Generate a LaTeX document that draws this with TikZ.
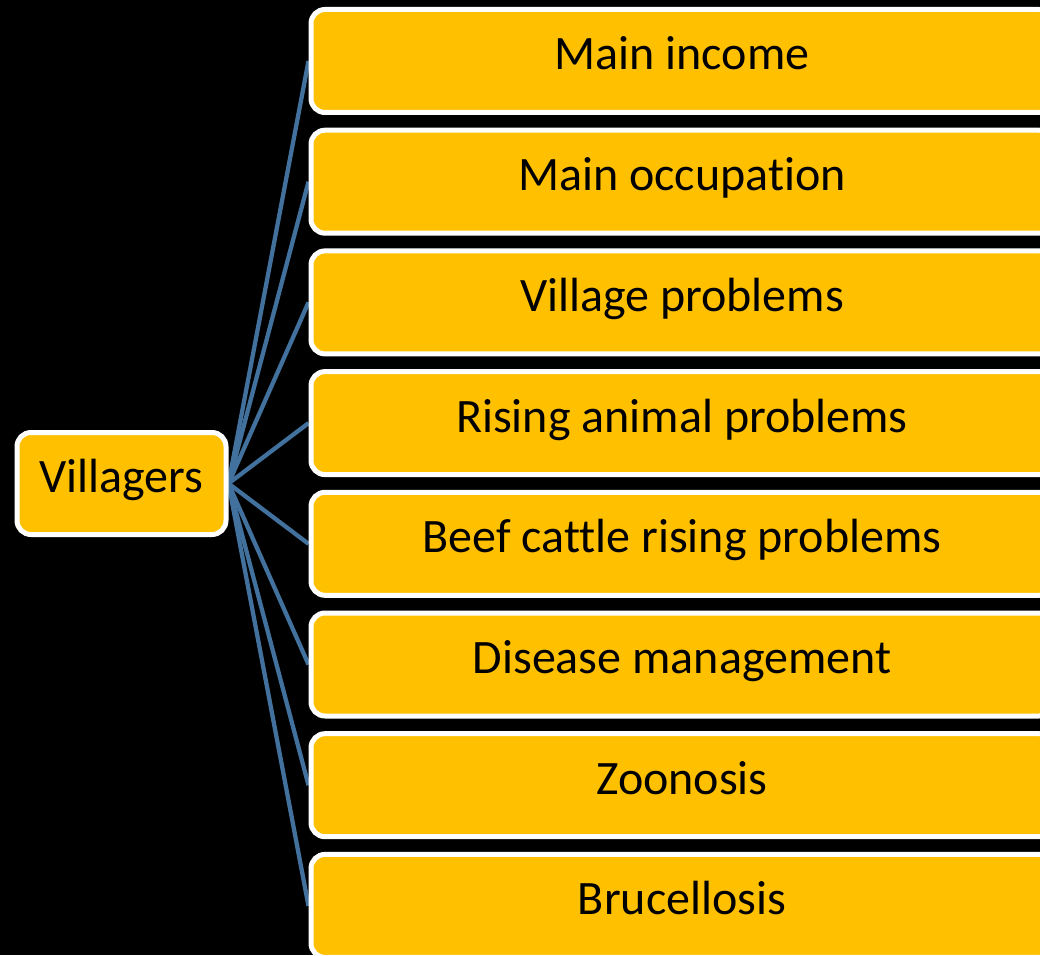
\documentclass[tikz,border=0pt]{standalone}
\usepackage{fontspec}
\setmainfont[Ligatures=NoCommon]{Carlito}
\usepackage{xcolor}
\usetikzlibrary{backgrounds}

\definecolor{boxyellow}{RGB}{255,192,0}
\definecolor{linkblue}{RGB}{65,113,156}

\begin{document}
\begin{tikzpicture}[x=1pt,y=-1pt,
        topic/.style={draw=white,line width=5pt,fill=boxyellow,rounded corners=14pt,
            text=black,font=\fontsize{48}{53}\selectfont,text height=32pt,text depth=14pt},
        link/.style={draw=linkblue,line width=4.3pt}]
                \useasboundingbox (0,0) rectangle (1040,955);
                \clip (0,0) rectangle (1040,955);

                \node[topic,minimum width=209pt,minimum height=102pt] (vil) at (121.5,483.5) {Villagers};

                \foreach \t [count=\i] in {Main income,Main occupation,Village problems,
                        Rising animal problems,Beef cattle rising problems,
                        Disease management,Zoonosis,Brucellosis}
                {
                        \node[topic,minimum width=742pt,minimum height=103pt] (b\i) at (682,{61+120.7*(\i-1)}) {\t};
                }

                % black page and the links, kept behind the boxes
                \begin{pgfonlayer}{background}
                        \fill[black] (0,0) rectangle (1040,955);
                        \foreach \i in {1,...,8}
                                \draw[link] (vil.east) -- (b\i.west);
                \end{pgfonlayer}
            \end{tikzpicture}
\end{document}
